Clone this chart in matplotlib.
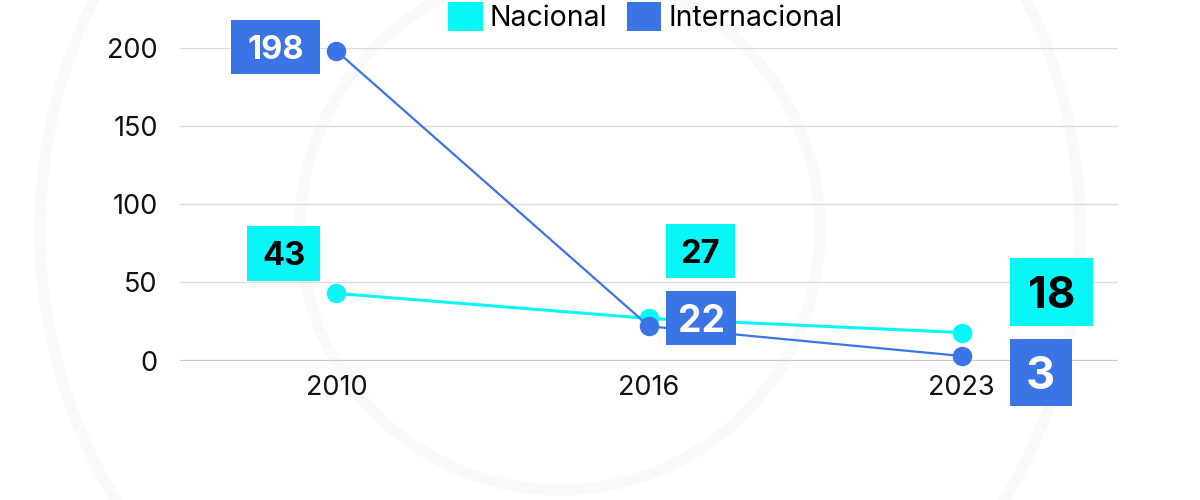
import matplotlib
matplotlib.use("Agg")
import matplotlib.pyplot as plt
from matplotlib.patches import Patch, Rectangle, Circle
from matplotlib.offsetbox import AnnotationBbox, DrawingArea
from matplotlib.text import Text

plt.rcParams['font.family'] = ['Inter', 'DejaVu Sans']

# data
years = ["2010", "2016", "2023"]
nacional = [43, 27, 18]
internacional = [198, 22, 3]

CYAN = "#08f6f6"
BLUE = "#3b74e4"
PX = 72 / 100  # points per pixel at dpi 100

fig = plt.figure(figsize=(12, 5), dpi=100)
fig.patch.set_facecolor("white")

# faint rings in the background, on their own axes underneath
bg = fig.add_axes([0, 0, 1, 1], zorder=-1)
bg.set_xlim(0, 1200)
bg.set_ylim(500, 0)
bg.axis("off")
for r in [260, 520, 800]:
    bg.add_patch(Circle((560, 230), r, fill=False, edgecolor="#faf8fb", lw=8))

ax = fig.add_axes([0.15, 1 - 360.7 / 500, 0.9317 - 0.15, (360.7 - 47.7) / 500])
ax.set_facecolor("none")
x = range(len(years))

ax.plot(x, nacional, color=CYAN, lw=2.2, marker="o", markersize=13,
        clip_on=False, zorder=3, label="Nacional")
ax.plot(x, internacional, color=BLUE, lw=1.6, marker="o", markersize=13,
        clip_on=False, zorder=4, label="Internacional")

ax.set_xlim(-0.5, 2.5)
ax.set_ylim(0, 200)
ax.set_yticks([0, 50, 100, 150, 200])
ax.set_xticks(list(x))
ax.set_xticklabels(years)
ax.tick_params(axis="both", length=0, labelsize=19.5, colors="#111111")
ax.tick_params(axis="y", pad=16)
ax.tick_params(axis="x", pad=10)
for s in ax.spines.values():
    s.set_visible(False)
ax.grid(axis="y", color="#dcdcdc", lw=1)
ax.axhline(0, color="#c8c8c8", lw=1.6, zorder=1)

# value labels: (series, index, dx px, dy px up, w px, h px, fontsize)
label_specs = [
    (internacional, 0, -60.5, 4, 89, 54, 23.5, BLUE, "white"),
    (nacional, 0, -52.5, 40, 73, 55, 23.5, CYAN, "black"),
    (nacional, 1, 51.5, 67.5, 69, 54, 23.5, CYAN, "black"),
    (internacional, 1, 52, 8, 70, 54, 27, BLUE, "white"),
    (nacional, 2, 89.5, 40.6, 83, 68, 31.5, CYAN, "black"),
    (internacional, 2, 79, -16.5, 62, 67, 32.5, BLUE, "white"),
]
for series, i, dx, dy, w, h, fs, bgc, fg in label_specs:
    da = DrawingArea(w * PX, h * PX, 0, 0)
    da.add_artist(Rectangle((0, 0), w * PX, h * PX, facecolor=bgc, edgecolor="none"))
    da.add_artist(Text(w * PX / 2, h * PX / 2, str(series[i]), ha="center",
                       va="center_baseline", fontsize=fs, fontweight="bold", color=fg))
    ab = AnnotationBbox(da, (i, series[i]), xybox=(dx * PX, dy * PX),
                        xycoords="data", boxcoords="offset points",
                        frameon=False, pad=0, box_alignment=(0.5, 0.5),
                        annotation_clip=False, zorder=5)
    ax.add_artist(ab)

handles = [Patch(facecolor=CYAN, label="Nacional"),
           Patch(facecolor=BLUE, label="Internacional")]
fig.legend(handles=handles, loc="center", bbox_to_anchor=(0.538, 0.966),
           ncol=2, frameon=False, fontsize=20.5, handlelength=1.2, handleheight=1.2,
           handletextpad=0.25, columnspacing=0.7, borderpad=0)

fig.savefig("out.png", dpi=100, facecolor="white")
